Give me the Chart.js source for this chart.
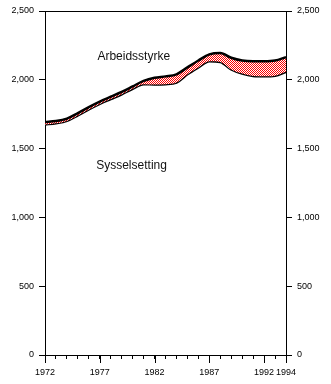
<!DOCTYPE html>
<html>
<head>
<meta charset="utf-8">
<script src="https://cdn.jsdelivr.net/npm/chart.js@4/dist/chart.umd.min.js"></script>
<style>
  html, body { margin: 0; padding: 0; background: #fff; }
  canvas { display: block; }
</style>
</head>
<body>
<canvas id="chart" width="331" height="384"></canvas>
<script>
// Norway, labour force and employment, thousands
var years = [1972, 1973, 1974, 1975, 1976, 1977, 1978, 1979, 1980, 1981, 1982, 1983,
             1984, 1985, 1986, 1987, 1988, 1989, 1990, 1991, 1992, 1993, 1994];
var arbeidsstyrke = [1693, 1700, 1718, 1758, 1802, 1842, 1877, 1912, 1952, 1992, 2015, 2025,
                     2040, 2090, 2140, 2185, 2195, 2160, 2140, 2135, 2135, 2140, 2165];
var sysselsetting = [1676, 1684, 1701, 1741, 1785, 1825, 1860, 1895, 1935, 1968, 1966, 1968,
                     1980, 2040, 2090, 2135, 2130, 2075, 2045, 2028, 2025, 2030, 2058];
var labeledYears = [1972, 1977, 1982, 1987, 1992, 1994];
var yTicks = [0, 500, 1000, 1500, 2000, 2500];

// red/white dither for the gap between the two series
function ditherPattern() {
    var c = document.createElement('canvas');
    c.width = 2; c.height = 2;
    var g = c.getContext('2d');
    g.fillStyle = '#fff';
    g.fillRect(0, 0, 2, 2);
    g.fillStyle = '#ff0000';
    g.fillRect(0, 0, 1, 1);
    g.fillRect(1, 1, 1, 1);
    return g.createPattern(c, 'repeat');
}

var tickFont = { family: 'Liberation Sans', size: 9 };

function fixedWidth(w) {
    return function (scale) { scale.width = w; };
}

var yAxis = function (pos) {
    return {
        type: 'linear',
        position: pos,
        min: 0,
        max: 2500,
        afterBuildTicks: function (scale) {
            scale.ticks = yTicks.map(function (v) { return { value: v }; });
        },
        afterFit: fixedWidth(45),
        grid: { drawOnChartArea: false, tickLength: 6, color: '#000', tickColor: '#000' },
        border: { color: '#000', width: 1 },
        ticks: {
            color: '#000',
            font: tickFont,
            padding: 5,
            callback: function (v) { return v.toLocaleString('en-US'); }
        }
    };
};

// top frame line, long ticks under labeled years, and the series names
var decorations = {
    id: 'decorations',
    afterDraw: function (chart) {
        var ctx = chart.ctx;
        var area = chart.chartArea;
        var x = chart.scales.x;
        var y = chart.scales.y;
        ctx.save();
        ctx.strokeStyle = '#000';
        ctx.lineWidth = 1;
        ctx.beginPath();
        ctx.moveTo(area.left, area.top + 0.5);
        ctx.lineTo(area.right, area.top + 0.5);
        labeledYears.forEach(function (yr) {
            var px = Math.round(x.getPixelForValue(yr)) + 0.5;
            ctx.moveTo(px, area.bottom);
            ctx.lineTo(px, area.bottom + 8);
        });
        ctx.stroke();

        ctx.fillStyle = '#111';
        ctx.font = '12px "Liberation Sans"';
        ctx.textAlign = 'center';
        ctx.textBaseline = 'middle';
        ctx.fillText('Arbeidsstyrke', x.getPixelForValue(1980.1), y.getPixelForValue(2166));
        ctx.fillText('Sysselsetting', x.getPixelForValue(1979.9), y.getPixelForValue(1374));
        ctx.restore();
    }
};

var ctx = document.getElementById('chart').getContext('2d');
var chart = new Chart(ctx, {
    type: 'line',
    data: {
        datasets: [{
            label: 'Arbeidsstyrke',
            data: years.map(function (yr, i) { return { x: yr, y: arbeidsstyrke[i] }; }),
            borderColor: '#000',
            borderWidth: 2.5,
            pointRadius: 0,
            cubicInterpolationMode: 'monotone',
            fill: '+1',
            backgroundColor: ditherPattern()
        }, {
            label: 'Sysselsetting',
            data: years.map(function (yr, i) { return { x: yr, y: sysselsetting[i] }; }),
            borderColor: '#000',
            borderWidth: 2.5,
            pointRadius: 0,
            cubicInterpolationMode: 'monotone',
            fill: false
        }]
    },
    options: {
        responsive: false,
        animation: false,
        layout: { padding: { top: 11, left: 0, right: 0, bottom: 0 } },
        plugins: {
            legend: { display: false },
            tooltip: { enabled: false }
        },
        scales: {
            x: {
                type: 'linear',
                min: 1972,
                max: 1994,
                afterBuildTicks: function (scale) {
                    scale.ticks = years.map(function (v) { return { value: v }; });
                },
                afterFit: function (scale) { scale.height = 29; },
                grid: { drawOnChartArea: false, tickLength: 4, color: '#000', tickColor: '#000' },
                border: { color: '#000', width: 1 },
                ticks: {
                    color: '#000',
                    font: tickFont,
                    padding: 8,
                    maxRotation: 0,
                    autoSkip: false,
                    callback: function (v) {
                        return labeledYears.indexOf(v) >= 0 ? String(v) : '';
                    }
                }
            },
            y: yAxis('left'),
            y2: yAxis('right')
        }
    },
    plugins: [decorations]
});
</script>
</body>
</html>
